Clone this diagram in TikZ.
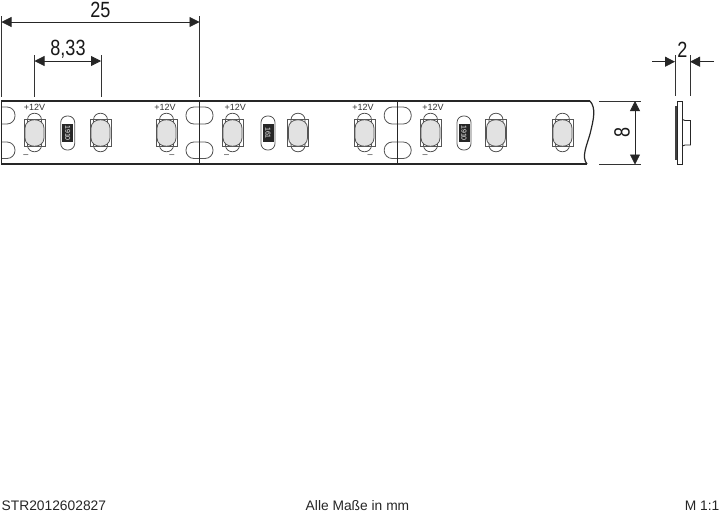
\documentclass[tikz,border=0pt]{standalone}
\usepackage{fontspec}
\setmainfont{Liberation Sans}
\usetikzlibrary{arrows.meta}
\definecolor{ledgrey}{HTML}{E2E2E2}
\definecolor{linegrey}{HTML}{555555}
\tikzset{
  x=1pt,y=-1pt,
  outline/.style={draw=black!85,line width=1.2pt},
  ext/.style={draw=black!80,line width=.8pt},
  dim/.style={draw=black!85,line width=.8pt,{Triangle[length=10pt,width=10pt]}-{Triangle[length=10pt,width=10pt]}},
  dimin/.style={draw=black!85,line width=.8pt,-{Triangle[length=10pt,width=10pt]}},
  dimtext/.style={inner sep=0pt,font=\fontsize{22}{22}\selectfont,text=black!90},
  small/.style={inner sep=0pt,font=\fontsize{9}{9}\selectfont,text=black!80},
  foot/.style={inner sep=0pt,font=\fontsize{13.8}{14}\selectfont,text=black!85},
  part/.style={draw=linegrey,line width=.8pt},
}
\newcommand{\narrow}[1]{\scalebox{.82}[1]{#1}}
\newcommand{\ledunit}[1]{%
  \draw[part,fill=white] (#1-7,120) .. controls (#1-7,111) and (#1+7,111) .. (#1+7,120) -- (#1+7,145) .. controls (#1+7,154) and (#1-7,154) .. (#1-7,145) -- cycle;
  \draw[part] (#1-10.5,119.5) rectangle (#1+10.5,146.5);
  \draw[part,fill=ledgrey] (#1-9.5,128) .. controls (#1-9.5,117) and (#1+9.5,117) .. (#1+9.5,128) -- (#1+9.5,138) .. controls (#1+9.5,149) and (#1-9.5,149) .. (#1-9.5,138) -- cycle;
}
\newcommand{\resistor}[3]{%
  \draw[part,fill=white,rounded corners=6.5pt] (#1-7,116) rectangle (#1+7,150);
  \fill[black!85] (#1-5.5,124) rectangle (#1+5.5,142);
  \node[inner sep=0pt,text=white,rotate=#3,font=\fontsize{7}{7}\selectfont] at (#1,133) {#2};
}
\newcommand{\padpair}[1]{%
  \draw[part,rounded corners=8pt] (#1-13.5,107) rectangle (#1+13.5,124);
  \draw[part,rounded corners=8pt] (#1-13.5,142) rectangle (#1+13.5,158.5);
}
\begin{document}
\begin{tikzpicture}
\useasboundingbox (0,0) rectangle (720,512);
\fill[white] (0,0) rectangle (720,512);
% strip
\coordinate (tl) at (1.5,101);
\coordinate (bl) at (1.5,164);
\coordinate (b1t) at (199.5,101);
\coordinate (b1b) at (199.5,164);
\coordinate (b2t) at (397.7,101);
\coordinate (b2b) at (397.7,164);
\begin{scope}
\clip (1.5,101) rectangle (600,164);
\padpair{1.5}
\end{scope}
\padpair{199.5}
\padpair{397.7}
\foreach \c in {34.5,100.5,166.5,232.5,298,364.5,430.5,496,562.5}{\ledunit{\c}}
\resistor{67.7}{1910}{-90}
\resistor{268}{161}{-90}
\resistor{464}{1910}{-90}
\draw[outline] (590,101) -- (tl) -- (bl) -- (587,164);
\draw[outline] (590,101) .. controls (596,108) and (594,118) .. (590,134) .. controls (587,145) and (581,157) .. (587,164);
\draw[outline] (b1t) -- (b1b);
\draw[outline] (b2t) -- (b2b);
% labels
\foreach \x in {34.5,165,235.3,363,433}{\node[small] (p\x) at (\x,107.5) {+12V};}
\foreach \x in {26,172,226.7,370,425}{\node[small] (m\x) at (\x,156) {–};}
% dimensions
\coordinate (a1) at (1.5,16); \coordinate (a2) at (1.5,97);
\coordinate (a3) at (199.5,16); \coordinate (a4) at (199.5,97);
\coordinate (c1) at (34.5,55); \coordinate (c2) at (34.5,97);
\coordinate (c3) at (101,55); \coordinate (c4) at (101,97);
\draw[ext] (a1) -- (a2); \draw[ext] (a3) -- (a4);
\draw[ext] (c1) -- (c2); \draw[ext] (c3) -- (c4);
\coordinate (d1) at (1.5,22); \coordinate (d2) at (199.5,22);
\coordinate (e1) at (34.5,61); \coordinate (e2) at (101,61);
\draw[dim] (d1) -- (d2);
\draw[dim] (e1) -- (e2);
\node[dimtext] (t25) at (100.5,9.5) {\narrow{25}};
\node[dimtext] (t833) at (68,49) {\narrow{8,33}};
% 8 dim
\coordinate (f1) at (599,101); \coordinate (f2) at (641,101);
\coordinate (f3) at (599,164.5); \coordinate (f4) at (641,164.5);
\draw[ext] (f1) -- (f2); \draw[ext] (f3) -- (f4);
\coordinate (g1) at (635,101); \coordinate (g2) at (635,164.5);
\draw[dim] (g1) -- (g2);
\node[dimtext,rotate=90] (t8) at (622,132.5) {\narrow{8}};
% side view
\coordinate (h1) at (675,55); \coordinate (h2) at (675,96);
\coordinate (h3) at (690,55); \coordinate (h4) at (690,96);
\draw[ext] (h1) -- (h2); \draw[ext] (h3) -- (h4);
\coordinate (i1) at (652,61.7); \coordinate (i2) at (675,61.7);
\coordinate (i3) at (714,61.7); \coordinate (i4) at (690,61.7);
\draw[dimin] (i1) -- (i2);
\draw[dimin] (i3) -- (i4);
\node[dimtext] (t2) at (682.5,50) {\narrow{2}};
\fill[black!75] (674.5,106) rectangle (677.5,160);
\draw[draw=black!85,line width=.9pt] (682.5,119.5) -- (685,120.5) -- (690.5,120.5) -- (690.5,145) -- (685,145) -- (682.5,146);
\draw[draw=black!85,line width=1pt,fill=white] (677.5,101) rectangle (682.5,164.5);
% footer
\node[foot,anchor=base west] (fa) at (1.5,510) {STR2012602827};
\node[foot,anchor=base] (fb) at (357.5,510) {Alle Maße in mm};
\node[foot,anchor=base east] (fc) at (719.5,510) {M 1:1};
\end{tikzpicture}
\end{document}
